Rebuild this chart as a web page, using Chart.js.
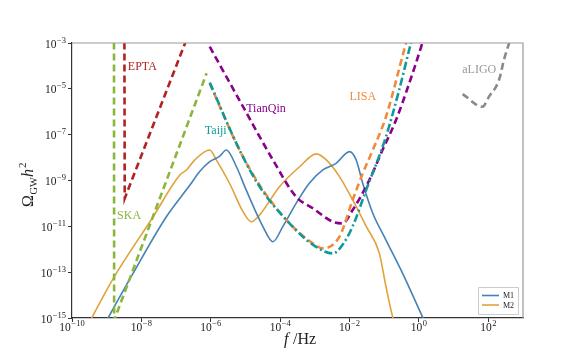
<!DOCTYPE html>
<html>
<head>
<meta charset="utf-8">
<script src="https://cdn.jsdelivr.net/npm/chart.js@4.4.0/dist/chart.umd.min.js"></script>
<style>
  html, body { margin: 0; padding: 0; background: #fff; }
  #wrap { width: 581px; height: 358px; }
</style>
</head>
<body>
<div id="wrap"><canvas id="gw"></canvas></div>
<script>
// values, as log10(f/Hz) and log10(Omega h^2)
const m1LogF = [-9.2, -8.96, -8.24, -7.28, -6.6, -6.32, -6.03, -5.75, -5.55, -5.26, -4.98, -4.5, -4.21, -3.92, -3.54, -3.16, -2.77, -2.39, -2.0, -1.81, -1.62, -1.33, -0.95, -0.47, 0.1, 0.3];
const m1LogO = [-15.7, -15.0, -13.05, -10.58, -9.2, -8.61, -8.18, -7.95, -7.67, -8.4, -9.41, -11.0, -11.67, -11.0, -10.0, -9.12, -8.54, -8.25, -7.74, -8.1, -9.12, -10.43, -11.6, -13.05, -14.94, -15.6];

const m2LogF = [-9.6, -9.43, -8.81, -7.66, -6.89, -6.7, -6.46, -6.03, -5.84, -5.46, -5.07, -4.83, -4.59, -4.02, -3.44, -2.96, -2.67, -2.29, -1.91, -1.52, -1.14, -0.95, -0.76, -0.65];
const m2LogO = [-15.5, -15.0, -13.27, -10.58, -8.76, -8.54, -8.1, -7.67, -8.1, -9.12, -10.36, -10.8, -10.5, -9.27, -8.4, -7.84, -8.1, -8.83, -9.85, -11.0, -12.18, -13.63, -14.94, -15.5];

const eptaLogF = [-8.49, -8.48, -6.61];
const eptaLogO = [-2.5, -9.78, -2.5];

const skaLogF = [-8.79, -8.785, -6.12];
const skaLogO = [-2.5, -15.1, -4.32];

const tianqinLogF = [-6.03, -5.07, -4.21, -3.54, -3.06, -2.48, -2.2, -1.91, -1.43, -1.05, -0.66, -0.28, 0.1, 0.2];
const tianqinLogO = [-3.16, -5.78, -8.1, -9.71, -10.21, -10.8, -10.87, -10.29, -8.98, -7.67, -6.36, -4.76, -3.0, -2.5];

const lisaLogF = [-6.03, -5.17, -4.5, -3.73, -3.06, -2.77, -2.29, -1.91, -1.62, -1.33, -0.95, -0.37, -0.25];
const lisaLogO = [-4.76, -7.67, -9.41, -10.87, -11.74, -11.96, -11.45, -9.85, -8.69, -7.67, -6.22, -3.0, -2.4];

const taijiLogF = [-6.03, -5.17, -4.59, -3.73, -3.06, -2.48, -2.2, -1.91, -1.52, -0.95, -0.57, -0.23, -0.12];
const taijiLogO = [-4.73, -7.67, -9.27, -10.87, -11.8, -12.18, -11.8, -11.0, -9.41, -7.09, -5.05, -3.0, -2.4];

const aligoLogF = [1.26, 1.83, 2.02, 2.31, 2.45, 2.6, 2.7];
const aligoLogO = [-5.23, -5.78, -5.34, -4.61, -3.74, -3.0, -2.5];

const xTicks = [-10, -8, -6, -4, -2, 0, 2];
const yTicks = [-15, -13, -11, -9, -7, -5, -3];

// text labels next to the sensitivity curves
const curveLabels = [
  { text: 'EPTA', logF: -8.39, logO: -4.05, color: '#b22222' },
  { text: 'SKA', logF: -8.7, logO: -10.55, color: '#8ab63e' },
  { text: 'Taiji', logF: -6.17, logO: -6.84, color: '#119999' },
  { text: 'TianQin', logF: -4.98, logO: -5.88, color: '#8b008b' },
  { text: 'LISA', logF: -2.0, logO: -5.36, color: '#f28a3a' },
  { text: 'aLIGO', logF: 1.25, logO: -4.18, color: '#9a9a9a' }
];

function pts(lf, lo) {
  return lf.map((v, i) => ({ x: Math.pow(10, v), y: Math.pow(10, lo[i]) }));
}

const serif = '"Liberation Serif", "DejaVu Serif", serif';

// "10" with a raised exponent, anchored at (x, y) where align is 'center' or 'right'
function drawPow(ctx, e, x, y, align) {
  const base = '10', exp = String(e).replace('-', '\u2212');
  ctx.font = '11.5px ' + serif;
  const wb = ctx.measureText(base).width;
  ctx.font = '8.5px ' + serif;
  const we = ctx.measureText(exp).width;
  const total = wb + we + 0.5;
  const x0 = align === 'center' ? x - total / 2 : x - total;
  ctx.textAlign = 'left';
  ctx.textBaseline = 'alphabetic';
  ctx.font = '11.5px ' + serif;
  ctx.fillText(base, x0, y);
  ctx.font = '8.5px ' + serif;
  ctx.fillText(exp, x0 + wb + 0.5, y - 5);
}

const overlay = {
  id: 'overlay',
  afterDraw(chart) {
    const ctx = chart.ctx;
    const a = chart.chartArea;
    const xs = chart.scales.x, ys = chart.scales.y;
    ctx.save();

    // top and right frame
    ctx.strokeStyle = '#999';
    ctx.lineWidth = 1.2;
    ctx.beginPath();
    ctx.moveTo(a.left, a.top);
    ctx.lineTo(a.right, a.top);
    ctx.lineTo(a.right, a.bottom);
    ctx.stroke();

    // tick labels
    ctx.fillStyle = '#222';
    xTicks.forEach(e => drawPow(ctx, e, xs.getPixelForValue(Math.pow(10, e)), a.bottom + 13, 'center'));
    yTicks.forEach(e => drawPow(ctx, e, a.left - 6, ys.getPixelForValue(Math.pow(10, e)) + 4.5, 'right'));

    // curve labels
    ctx.font = '12px ' + serif;
    ctx.textBaseline = 'middle';
    ctx.textAlign = 'left';
    curveLabels.forEach(l => {
      ctx.fillStyle = l.color;
      ctx.fillText(l.text, xs.getPixelForValue(Math.pow(10, l.logF)), ys.getPixelForValue(Math.pow(10, l.logO)));
    });

    // x title
    ctx.fillStyle = '#222';
    ctx.textBaseline = 'alphabetic';
    ctx.font = 'italic 16px ' + serif;
    const fx = 284, fy = 344;
    ctx.fillText('f', fx, fy);
    ctx.font = '16px ' + serif;
    ctx.fillText('/Hz', fx + 9, fy);

    // y title, rotated
    ctx.translate(33, 182);
    ctx.rotate(-Math.PI / 2);
    ctx.font = '16px ' + serif;
    ctx.fillText('\u03A9', -25, 0);
    ctx.font = '10.5px ' + serif;
    ctx.fillText('GW', -12.5, 3.5);
    ctx.font = 'italic 16px ' + serif;
    ctx.fillText('h', 5, 0);
    ctx.font = '11px ' + serif;
    ctx.fillText('2', 14, -7);
    ctx.setTransform(1, 0, 0, 1, 0, 0);

    // legend
    const lx = 478, ly = 287, lw = 40, lh = 27;
    ctx.fillStyle = 'rgba(255,255,255,0.85)';
    ctx.strokeStyle = '#ccc';
    ctx.lineWidth = 1;
    ctx.beginPath();
    ctx.rect(lx + 0.5, ly + 0.5, lw, lh);
    ctx.fill();
    ctx.stroke();
    ctx.font = '8px ' + serif;
    ctx.textBaseline = 'middle';
    chart.data.datasets.filter(d => d.inLegend).forEach((d, i) => {
      const yy = ly + 8.5 + i * 9.5;
      ctx.strokeStyle = d.borderColor;
      ctx.lineWidth = 1.6;
      ctx.beginPath();
      ctx.moveTo(lx + 4, yy);
      ctx.lineTo(lx + 21, yy);
      ctx.stroke();
      ctx.fillStyle = '#222';
      ctx.fillText(d.label, lx + 25, yy + 0.5);
    });
    ctx.restore();
  }
};

function detector(label, lf, lo, color, dash, smooth) {
  return {
    label: label, data: pts(lf, lo), borderColor: color, borderWidth: 2.6,
    borderDash: dash, pointRadius: 0, fill: false, order: 1,
    tension: smooth ? 0.4 : 0, cubicInterpolationMode: smooth ? 'monotone' : 'default'
  };
}

new Chart(document.getElementById('gw'), {
  type: 'line',
  data: {
    datasets: [
      detector('Taiji', taijiLogF, taijiLogO, '#119999', [8, 3, 2, 3], true),
      detector('LISA', lisaLogF, lisaLogO, '#f28a3a', [7, 4], true),
      detector('TianQin', tianqinLogF, tianqinLogO, '#8b008b', [7, 4], true),
      detector('EPTA', eptaLogF, eptaLogO, '#b22222', [7, 4], false),
      detector('SKA', skaLogF, skaLogO, '#8ab63e', [7, 4], false),
      detector('aLIGO', aligoLogF, aligoLogO, '#8a8a8a', [7, 4], true),
      { label: 'M1', data: pts(m1LogF, m1LogO), borderColor: '#4682b4', borderWidth: 1.6, pointRadius: 0, tension: 0.4, cubicInterpolationMode: 'monotone', order: 2, inLegend: true },
      { label: 'M2', data: pts(m2LogF, m2LogO), borderColor: '#e0a23a', borderWidth: 1.6, pointRadius: 0, tension: 0.4, cubicInterpolationMode: 'monotone', order: 2, inLegend: true }
    ]
  },
  options: {
    responsive: true,
    maintainAspectRatio: false,
    animation: false,
    parsing: false,
    layout: { padding: { top: 43, right: 58, left: 0, bottom: 0 } },
    plugins: { legend: { display: false }, tooltip: { enabled: false } },
    scales: {
      x: {
        type: 'logarithmic',
        min: 1e-10, max: 1e3,
        afterBuildTicks: s => { s.ticks = xTicks.map(e => ({ value: Math.pow(10, e) })); },
        afterFit: s => { s.height = 40; },
        ticks: { display: false, autoSkip: false },
        grid: { drawOnChartArea: false, drawTicks: true, tickLength: 4, color: '#333', lineWidth: 1 },
        border: { color: '#333', width: 1.2 }
      },
      y: {
        type: 'logarithmic',
        min: 1e-15, max: 1e-3,
        afterBuildTicks: s => { s.ticks = yTicks.map(e => ({ value: Math.pow(10, e) })); },
        afterFit: s => { s.width = 72; },
        ticks: { display: false, autoSkip: false },
        grid: { drawOnChartArea: false, drawTicks: true, tickLength: 4, color: '#333', lineWidth: 1 },
        border: { color: '#333', width: 1.2 }
      }
    }
  },
  plugins: [overlay]
});
</script>
</body>
</html>
